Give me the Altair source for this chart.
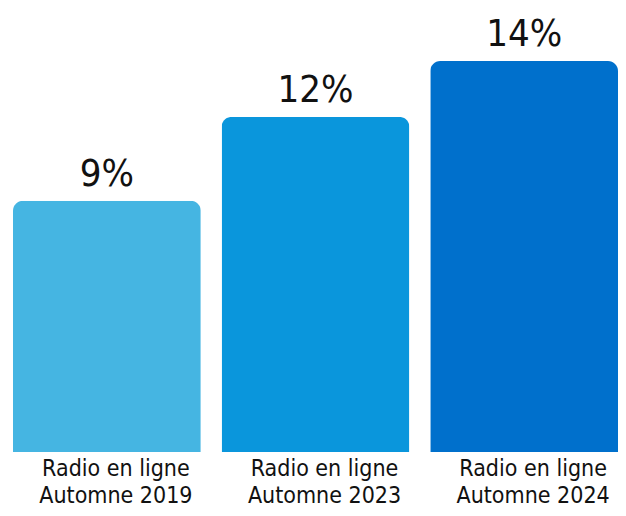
import altair as alt
import pandas as pd

categories = ["Radio en ligne\nAutomne 2019", "Radio en ligne\nAutomne 2023", "Radio en ligne\nAutomne 2024"]
values = [9, 12, 14]
labels = ["9%", "12%", "14%"]
colors = ["#45B5E2", "#0A96DC", "#0070CC"]

df = pd.DataFrame({"cat": categories, "val": values, "lab": labels})

FONT = "DejaVu Sans Condensed, sans-serif"

x = alt.X("cat:N", sort=categories,
          scale=alt.Scale(paddingInner=0.1, paddingOuter=0),
          axis=alt.Axis(title=None, labelAngle=0, ticks=False, domain=False,
                        labelExpr="split(datum.label, '\\n')",
                        labelFont=FONT, labelFontSize=23, labelLineHeight=27,
                        labelColor="#111111", labelPadding=5, labelOffset=9))
y = alt.Y("val:Q", scale=alt.Scale(domain=[0, 15.9], nice=False), axis=None)

bars = alt.Chart(df).mark_bar(cornerRadiusTopLeft=10, cornerRadiusTopRight=10).encode(
    x=x, y=y,
    color=alt.Color("cat:N", sort=categories,
                    scale=alt.Scale(domain=categories, range=colors), legend=None),
)
text = alt.Chart(df).mark_text(baseline="alphabetic", dy=-15, font=FONT,
                               fontSize=38, color="#111111").encode(
    x=x, y=y, text="lab:N")

chart = (bars + text).properties(
    width=605, height=444,
    autosize=alt.AutoSizeParams(type="none"),
    padding={"left": 5, "top": 0, "right": 0, "bottom": 56},
).configure_view(stroke=None)

chart.save("out.html", embed_options={"renderer": "svg", "actions": False})
